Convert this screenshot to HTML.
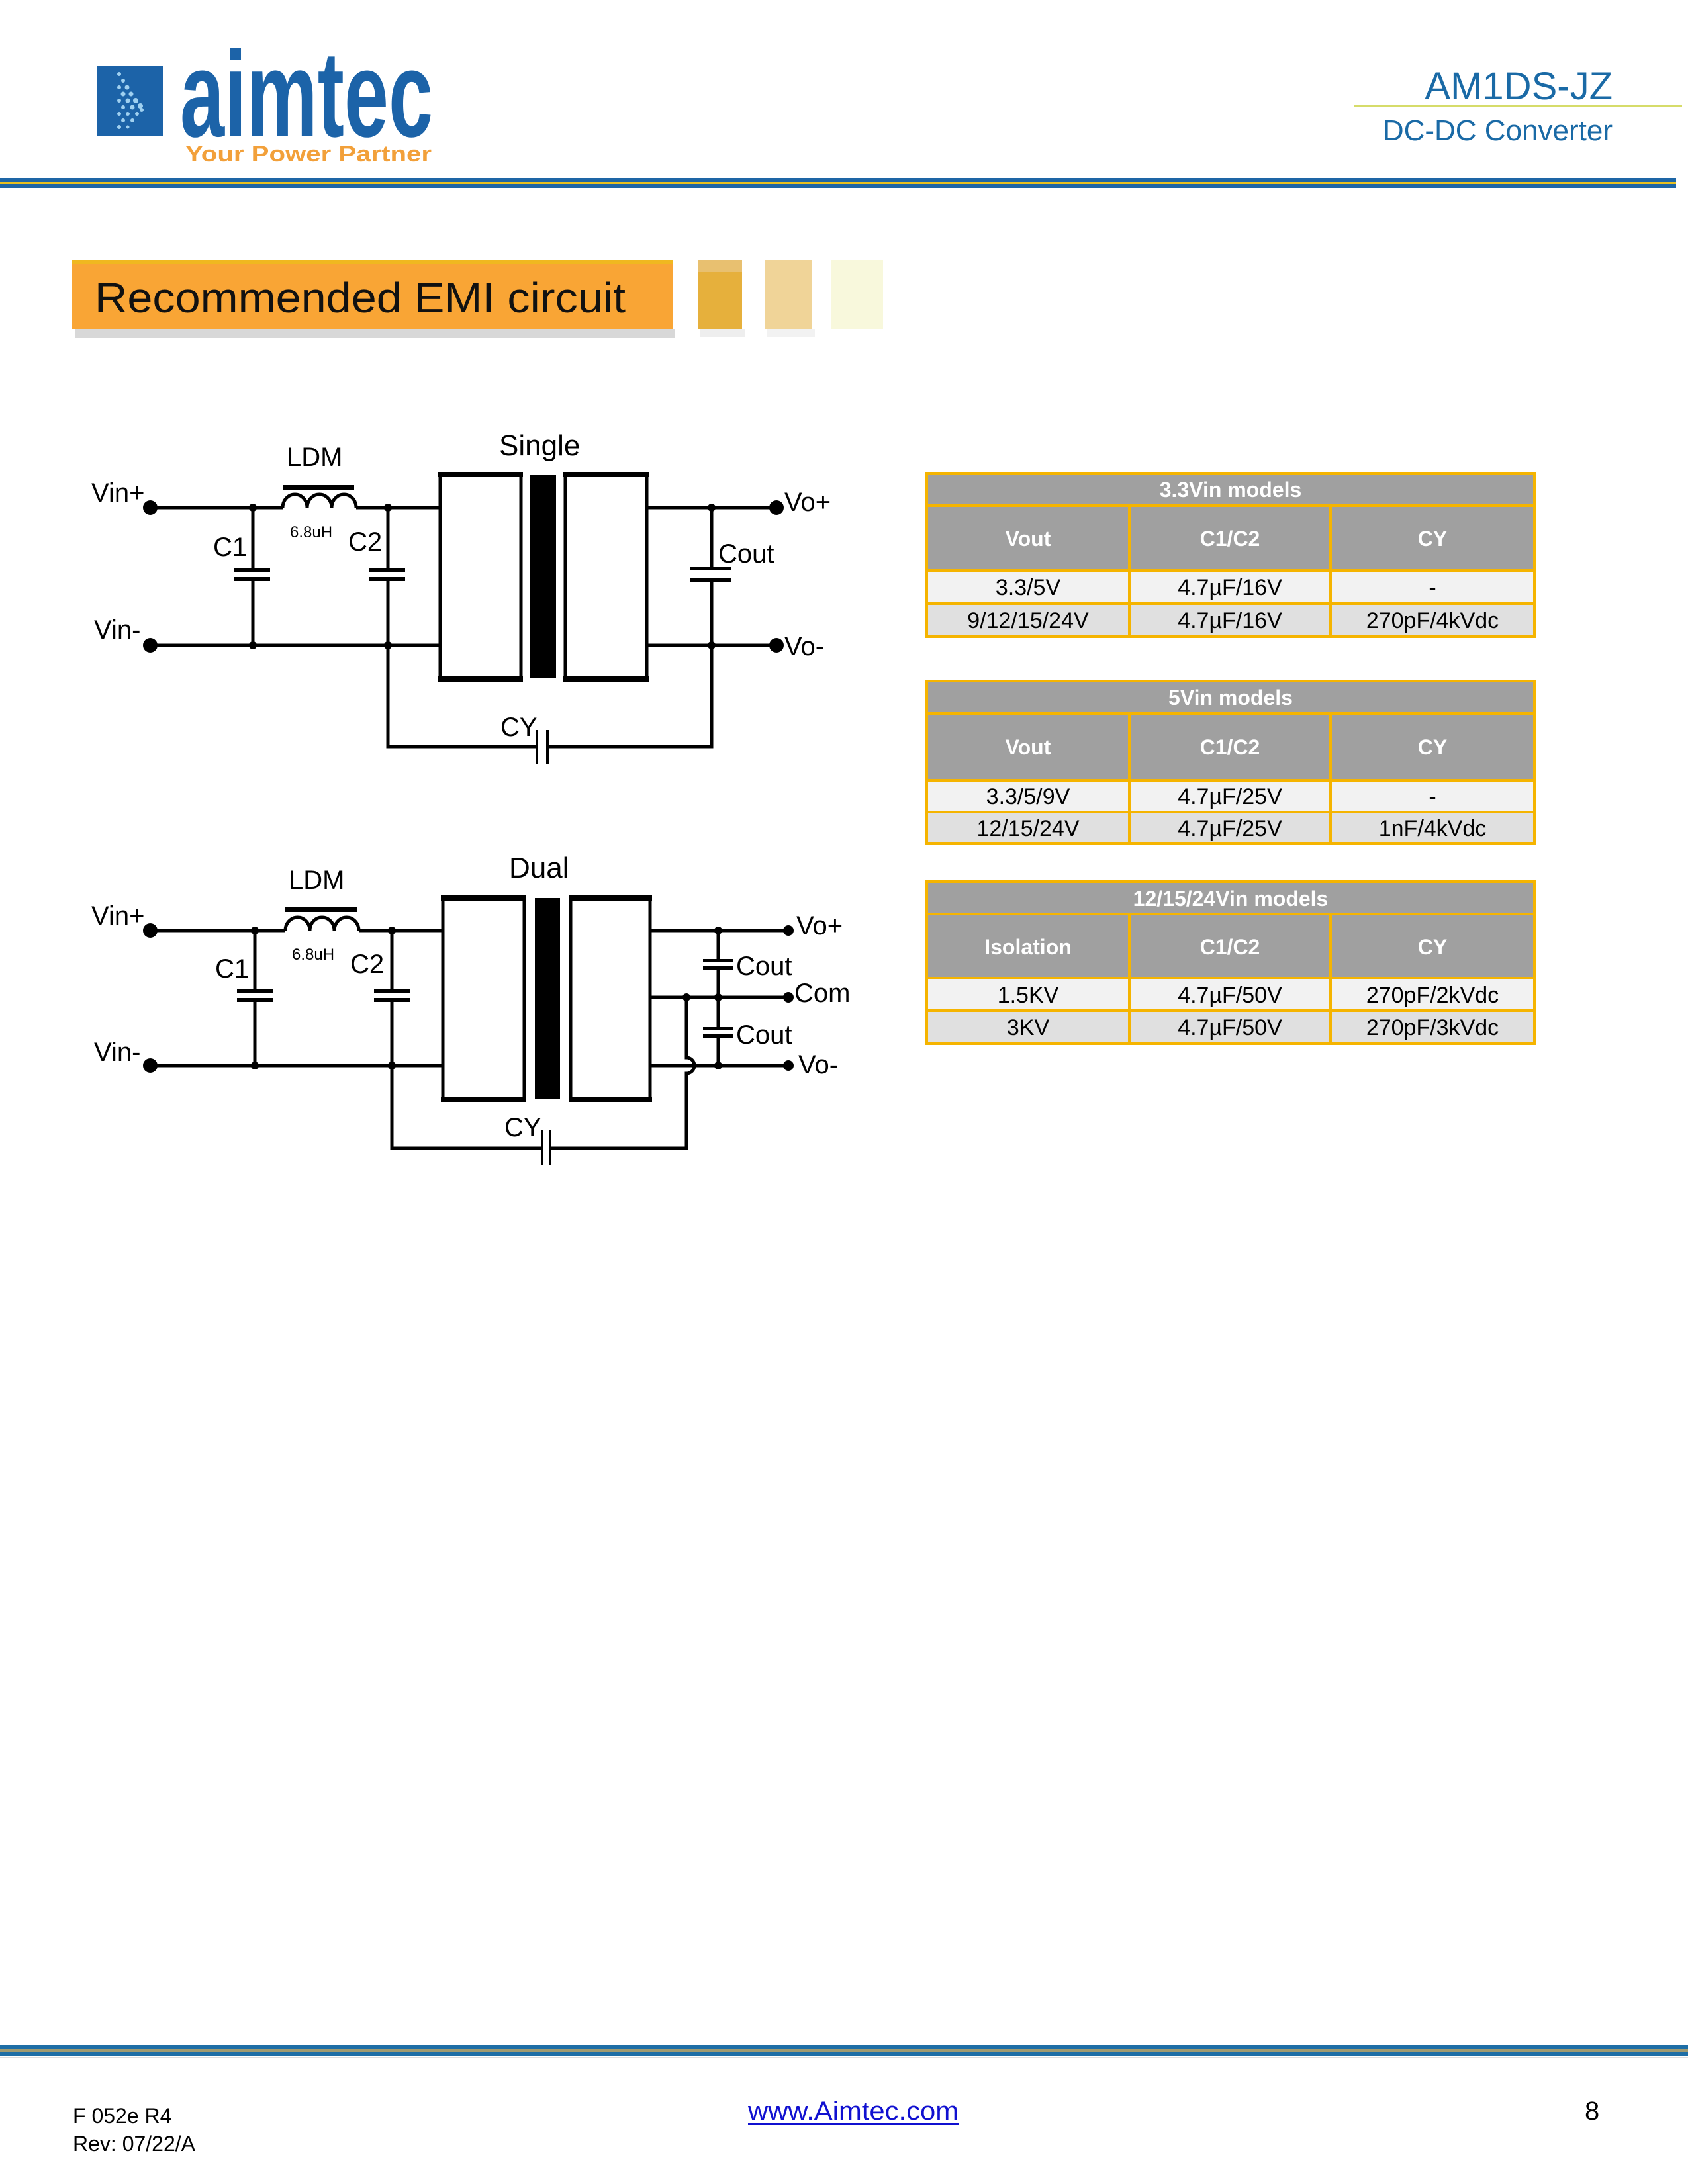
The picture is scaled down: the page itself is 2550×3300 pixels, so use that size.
<!DOCTYPE html>
<html><head><meta charset="utf-8"><style>
html,body{margin:0;padding:0;background:#fff}
svg{display:block}
</style></head><body>
<svg width="2550" height="3300" viewBox="0 0 2550 3300" xmlns="http://www.w3.org/2000/svg" font-family="Liberation Sans, sans-serif">
<!-- Header logo -->
<rect x="147" y="99" width="99" height="107" fill="#1c63a8"/>
<g fill="#9fd0f0">
<circle cx="180" cy="112" r="3"/><circle cx="186" cy="122" r="3"/><circle cx="192" cy="132" r="3.5"/><circle cx="198" cy="142" r="3.5"/><circle cx="205" cy="152" r="4"/><circle cx="212" cy="160" r="4"/>
<circle cx="180" cy="132" r="3"/><circle cx="186" cy="142" r="3.5"/><circle cx="193" cy="152" r="3.5"/><circle cx="200" cy="162" r="3.5"/>
<circle cx="180" cy="152" r="3"/><circle cx="186" cy="162" r="3"/><circle cx="193" cy="172" r="3"/><circle cx="200" cy="182" r="3"/>
<circle cx="180" cy="172" r="3"/><circle cx="186" cy="182" r="3"/><circle cx="180" cy="192" r="3"/>
<circle cx="207" cy="172" r="3"/><circle cx="214" cy="166" r="3"/><circle cx="193" cy="192" r="2.5"/>
</g>
<text x="272" y="206" font-size="185" font-weight="bold" fill="#1c63a8" textLength="382" lengthAdjust="spacingAndGlyphs">aimtec</text>
<text x="280" y="244" font-size="34" font-weight="bold" fill="#f2a03a" textLength="372" lengthAdjust="spacingAndGlyphs">Your Power Partner</text>

<text x="2436" y="150" font-size="58" fill="#1a6aa6" text-anchor="end">AM1DS-JZ</text>
<rect x="2045" y="159" width="496" height="3" fill="#d6dc6a"/>
<text x="2436" y="212" font-size="44" fill="#1a6aa6" text-anchor="end">DC-DC Converter</text>

<rect x="0" y="269" width="2532" height="6" fill="#1e66a6"/>
<rect x="0" y="275" width="2532" height="3" fill="#e8c020"/>
<rect x="0" y="278" width="2532" height="6" fill="#1e66a6"/>

<!-- Banner -->
<rect x="114" y="497" width="906" height="14" fill="#d8d8d8"/>
<rect x="109" y="393" width="907" height="104" fill="#f9a535"/>
<rect x="109" y="393" width="907" height="6" fill="#f0b820"/>
<text x="143" y="472" font-size="64" fill="#111" textLength="802" lengthAdjust="spacingAndGlyphs">Recommended EMI circuit</text>
<rect x="1054" y="393" width="67" height="104" fill="#e6b03c"/>
<rect x="1054" y="393" width="67" height="18" fill="#e8c070"/>
<rect x="1155" y="393" width="72" height="104" fill="#f0d498"/>
<rect x="1256" y="393" width="78" height="104" fill="#f8f8dc"/>
<rect x="1058" y="497" width="67" height="12" fill="#eeeeee"/>
<rect x="1159" y="497" width="72" height="12" fill="#f2f2f2"/>

<!-- Single circuit -->
<g stroke="#000" stroke-width="5" fill="none">
<path d="M227 767 H427 M538 767 H665 M227 975 H665 M382 767 V861 M382 874 V975 M586 767 V861 M586 874 V1128 H811 M827 1128 H1075 V975 M977 767 H1173 M977 975 H1173 M1075 767 V859 M1075 876 V975"/>
<path d="M427 767 a18.5 20 0 0 1 37 0 a18.5 20 0 0 1 37 0 a18.5 20 0 0 1 37 0"/>
<rect x="665" y="717" width="122" height="308"/>
<rect x="854" y="717" width="123" height="308"/>
</g>
<g fill="#000">
<rect x="427" y="733" width="108" height="7"/>
<rect x="354" y="858" width="54" height="6"/><rect x="354" y="872" width="54" height="6"/>
<rect x="558" y="858" width="54" height="6"/><rect x="558" y="872" width="54" height="6"/>
<rect x="1042" y="856" width="62" height="6"/><rect x="1042" y="873" width="62" height="6"/>
<rect x="800" y="717" width="40" height="308"/>
<rect x="662" y="713" width="128" height="8"/><rect x="662" y="1022" width="128" height="8"/>
<rect x="851" y="713" width="129" height="8"/><rect x="851" y="1022" width="129" height="8"/>
<rect x="809" y="1103" width="4" height="52"/><rect x="825" y="1103" width="4" height="52"/>
<circle cx="227" cy="767" r="11"/><circle cx="227" cy="975" r="11"/><circle cx="1173" cy="767" r="11"/><circle cx="1173" cy="975" r="11"/>
<circle cx="382" cy="767" r="6"/><circle cx="382" cy="975" r="6"/><circle cx="586" cy="767" r="6"/><circle cx="586" cy="975" r="6"/><circle cx="1075" cy="767" r="6"/><circle cx="1075" cy="975" r="6"/>
</g>
<g font-size="40" fill="#000">
<text x="138" y="758">Vin+</text>
<text x="142" y="965">Vin-</text>
<text x="433" y="704">LDM</text>
<text x="754" y="688" font-size="44">Single</text>
<text x="438" y="812" font-size="24">6.8uH</text>
<text x="322" y="840">C1</text>
<text x="526" y="832">C2</text>
<text x="1085" y="850">Cout</text>
<text x="1185" y="772">Vo+</text>
<text x="1185" y="990">Vo-</text>
<text x="756" y="1112">CY</text>
</g>

<!-- Dual circuit -->
<g stroke="#000" stroke-width="5" fill="none">
<path d="M227 1406 H431 M542 1406 H669 M227 1610 H669 M385 1406 V1498 M385 1510 V1610 M592 1406 V1498 M592 1510 V1735 H819 M831 1735 H1037 V1622 A12 12 0 0 0 1037 1598 V1507 M982 1406 H1191 M982 1507 H1191 M982 1610 H1191 M1085 1406 V1452 M1085 1462 V1555 M1085 1565 V1610"/>
<path d="M431 1406 a18.5 20 0 0 1 37 0 a18.5 20 0 0 1 37 0 a18.5 20 0 0 1 37 0"/>
<rect x="669" y="1357" width="123" height="303"/>
<rect x="862" y="1357" width="120" height="303"/>
</g>
<g fill="#000">
<rect x="431" y="1371" width="108" height="7"/>
<rect x="358" y="1495" width="54" height="6"/><rect x="358" y="1508" width="54" height="6"/>
<rect x="565" y="1495" width="54" height="6"/><rect x="565" y="1508" width="54" height="6"/>
<rect x="1062" y="1449" width="46" height="5"/><rect x="1062" y="1460" width="46" height="5"/>
<rect x="1062" y="1552" width="46" height="5"/><rect x="1062" y="1563" width="46" height="5"/>
<rect x="808" y="1357" width="38" height="303"/>
<rect x="666" y="1353" width="129" height="8"/><rect x="666" y="1657" width="129" height="8"/>
<rect x="859" y="1353" width="126" height="8"/><rect x="859" y="1657" width="126" height="8"/>
<rect x="817" y="1708" width="4" height="52"/><rect x="829" y="1708" width="4" height="52"/>
<circle cx="227" cy="1406" r="11"/><circle cx="227" cy="1610" r="11"/>
<circle cx="1191" cy="1406" r="8"/><circle cx="1191" cy="1507" r="8"/><circle cx="1191" cy="1610" r="8"/>
<circle cx="385" cy="1406" r="6"/><circle cx="385" cy="1610" r="6"/><circle cx="592" cy="1406" r="6"/><circle cx="592" cy="1610" r="6"/>
<circle cx="1085" cy="1406" r="6"/><circle cx="1085" cy="1507" r="6"/><circle cx="1085" cy="1610" r="6"/><circle cx="1037" cy="1507" r="6"/>
</g>
<g font-size="40" fill="#000">
<text x="138" y="1397">Vin+</text>
<text x="142" y="1603">Vin-</text>
<text x="436" y="1343">LDM</text>
<text x="769" y="1326" font-size="44">Dual</text>
<text x="441" y="1450" font-size="24">6.8uH</text>
<text x="325" y="1477">C1</text>
<text x="529" y="1470">C2</text>
<text x="1112" y="1473">Cout</text>
<text x="1112" y="1577">Cout</text>
<text x="1203" y="1412">Vo+</text>
<text x="1200" y="1514">Com</text>
<text x="1206" y="1622">Vo-</text>
<text x="762" y="1717">CY</text>
</g>

<!-- Tables -->
<g font-size="34">
<!-- T1 -->
<rect x="1400" y="715" width="918" height="147" fill="#a0a0a0"/>
<rect x="1400" y="862" width="918" height="50" fill="#f2f2f2"/>
<rect x="1400" y="912" width="918" height="50" fill="#e0e0e0"/>
<g stroke="#f5b400" stroke-width="4" fill="none">
<rect x="1400" y="715" width="918" height="247"/>
<path d="M1400 764 H2318 M1400 862 H2318 M1400 912 H2318 M1706 764 V962 M2010 764 V962"/>
</g>
<g fill="#fff" font-weight="bold" text-anchor="middle" font-size="32">
<text x="1859" y="751">3.3Vin models</text>
<text x="1553" y="825">Vout</text><text x="1858" y="825">C1/C2</text><text x="2164" y="825">CY</text>
</g>
<g fill="#000" text-anchor="middle">
<text x="1553" y="899">3.3/5V</text><text x="1858" y="899">4.7µF/16V</text><text x="2164" y="899">-</text>
<text x="1553" y="949">9/12/15/24V</text><text x="1858" y="949">4.7µF/16V</text><text x="2164" y="949">270pF/4kVdc</text>
</g>
<!-- T2 -->
<rect x="1400" y="1029" width="918" height="150" fill="#a0a0a0"/>
<rect x="1400" y="1179" width="918" height="48" fill="#f2f2f2"/>
<rect x="1400" y="1227" width="918" height="48" fill="#e0e0e0"/>
<g stroke="#f5b400" stroke-width="4" fill="none">
<rect x="1400" y="1029" width="918" height="246"/>
<path d="M1400 1078 H2318 M1400 1179 H2318 M1400 1227 H2318 M1706 1078 V1275 M2010 1078 V1275"/>
</g>
<g fill="#fff" font-weight="bold" text-anchor="middle" font-size="32">
<text x="1859" y="1065">5Vin models</text>
<text x="1553" y="1140">Vout</text><text x="1858" y="1140">C1/C2</text><text x="2164" y="1140">CY</text>
</g>
<g fill="#000" text-anchor="middle">
<text x="1553" y="1215">3.3/5/9V</text><text x="1858" y="1215">4.7µF/25V</text><text x="2164" y="1215">-</text>
<text x="1553" y="1263">12/15/24V</text><text x="1858" y="1263">4.7µF/25V</text><text x="2164" y="1263">1nF/4kVdc</text>
</g>
<!-- T3 -->
<rect x="1400" y="1332" width="918" height="146" fill="#a0a0a0"/>
<rect x="1400" y="1478" width="918" height="49" fill="#f2f2f2"/>
<rect x="1400" y="1527" width="918" height="50" fill="#e0e0e0"/>
<g stroke="#f5b400" stroke-width="4" fill="none">
<rect x="1400" y="1332" width="918" height="245"/>
<path d="M1400 1381 H2318 M1400 1478 H2318 M1400 1527 H2318 M1706 1381 V1577 M2010 1381 V1577"/>
</g>
<g fill="#fff" font-weight="bold" text-anchor="middle" font-size="32">
<text x="1859" y="1369">12/15/24Vin models</text>
<text x="1553" y="1442">Isolation</text><text x="1858" y="1442">C1/C2</text><text x="2164" y="1442">CY</text>
</g>
<g fill="#000" text-anchor="middle">
<text x="1553" y="1515">1.5KV</text><text x="1858" y="1515">4.7µF/50V</text><text x="2164" y="1515">270pF/2kVdc</text>
<text x="1553" y="1564">3KV</text><text x="1858" y="1564">4.7µF/50V</text><text x="2164" y="1564">270pF/3kVdc</text>
</g>
</g>

<!-- Footer -->
<rect x="0" y="3090" width="2550" height="6" fill="#1e6ea6"/>
<rect x="0" y="3096" width="2550" height="4" fill="#a09a70"/>
<rect x="0" y="3100" width="2550" height="6" fill="#1e6ea6"/>
<rect x="0" y="3108" width="2550" height="2" fill="#dddddd"/>
<text x="110" y="3208" font-size="32" fill="#000">F 052e R4</text>
<text x="110" y="3250" font-size="32" fill="#000">Rev: 07/22/A</text>
<text x="1130" y="3203" font-size="40" fill="#1010d0" textLength="318" lengthAdjust="spacingAndGlyphs">www.Aimtec.com</text>
<rect x="1130" y="3208" width="318" height="3" fill="#1010d0"/>
<text x="2394" y="3203" font-size="40" fill="#000">8</text>
</svg>
</body></html>
